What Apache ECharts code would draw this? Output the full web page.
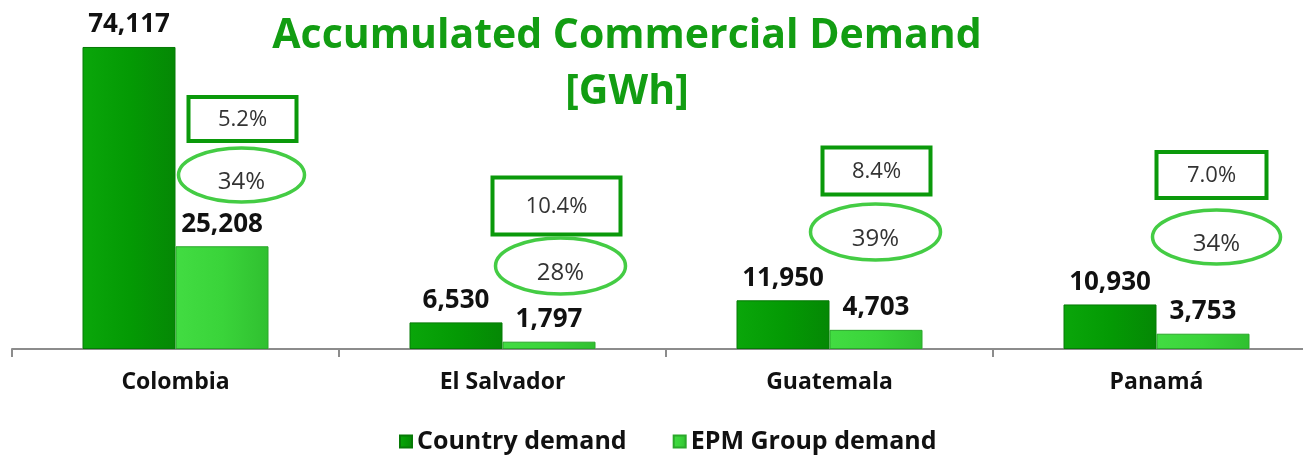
<!DOCTYPE html>
<html>
<head>
<meta charset="utf-8">
<script src="https://cdn.jsdelivr.net/npm/echarts@6/dist/echarts.min.js"></script>
<style>
  html, body { margin: 0; padding: 0; background: #fff; overflow: hidden; }
  /* the plot runs past the right edge of the picture, as in the original slide */
  #chart { width: 1320px; height: 457px; }
</style>
</head>
<body>
<div id="chart"></div>
<script>
// chart data
const countries = ['Colombia', 'El Salvador', 'Guatemala', 'Panamá'];
const countryDemand = [74117, 6530, 11950, 10930];
const epmDemand = [25208, 1797, 4703, 3753];
const growthLabels = ['5.2%', '10.4%', '8.4%', '7.0%'];
const shareLabels = ['34%', '28%', '39%', '34%'];

// annotation layout (pixel offsets from the category centre)
const boxLayout = [
    { dx: 67, y: 119, w: 108, h: 44 },
    { dx: 54, y: 206, w: 128, h: 57 },
    { dx: 47, y: 171, w: 108, h: 47 },
    { dx: 55, y: 175, w: 110, h: 46 }
];
const ovalLayout = [
    { dx: 66, y: 175, rx: 63, ry: 27 },
    { dx: 58, y: 266, rx: 65, ry: 28 },
    { dx: 46, y: 232, rx: 65, ry: 28 },
    { dx: 60, y: 237, rx: 64, ry: 27 }
];

const FONT = '"Open Sans", Lato, sans-serif';
const DARK = '#049a04';
const LIGHT = '#3ad43a';

const chart = echarts.init(document.getElementById('chart'));

const valueLabel = {
    show: true,
    position: 'top',
    distance: 9,
    color: '#111',
    fontFamily: FONT,
    fontWeight: 'bold',
    fontSize: 26,
    formatter: p => p.value.toLocaleString('en-US')
};

chart.setOption({
    animation: false,
    title: {
        text: 'Accumulated Commercial Demand\n[GWh]',
        left: 622,
        top: 3,
        textAlign: 'center',
        textStyle: {
            color: '#129d12',
            fontFamily: FONT,
            fontWeight: 'bold',
            fontSize: 41,
            lineHeight: 56
        }
    },
    legend: {
        bottom: -2,
        left: 394,
        itemWidth: 12,
        itemHeight: 12,
        itemGap: 46,
        icon: 'rect',
        textStyle: {
            color: '#111',
            fontFamily: FONT,
            fontWeight: 'bold',
            fontSize: 25
        }
    },
    grid: { left: 12, right: 0, top: 23, bottom: 108 },
    xAxis: {
        type: 'category',
        data: countries,
        axisLine: { lineStyle: { color: '#8c8c8c', width: 2 } },
        axisTick: { show: true, length: 8, lineStyle: { color: '#8c8c8c', width: 2 } },
        axisLabel: {
            color: '#111',
            fontFamily: FONT,
            fontWeight: 'bold',
            fontSize: 23,
            margin: 22
        }
    },
    yAxis: {
        type: 'value',
        min: 0,
        max: 80000,
        show: false,
        splitLine: { show: false }
    },
    series: [
        {
            name: 'Country demand',
            type: 'bar',
            data: countryDemand,
            barWidth: 93,
            barGap: '0%',
            itemStyle: {
                color: new echarts.graphic.LinearGradient(0, 0, 1, 0, [
                    { offset: 0, color: '#0aa60a' },
                    { offset: 0.5, color: DARK },
                    { offset: 1, color: '#058805' }
                ]),
                borderColor: '#067a06',
                borderWidth: 1
            },
            label: valueLabel
        },
        {
            name: 'EPM Group demand',
            type: 'bar',
            data: epmDemand,
            barWidth: 93,
            itemStyle: {
                color: new echarts.graphic.LinearGradient(0, 0, 1, 0, [
                    { offset: 0, color: '#42dc42' },
                    { offset: 0.5, color: LIGHT },
                    { offset: 1, color: '#30c030' }
                ]),
                borderColor: '#2aa82a',
                borderWidth: 1
            },
            label: valueLabel
        }
    ]
});

// percentage annotations (boxes and ovals) placed next to each category
function drawAnnotations() {
    const elements = [];
    countries.forEach((name, i) => {
        const cx = chart.convertToPixel({ xAxisIndex: 0 }, name);
        const b = boxLayout[i];
        const o = ovalLayout[i];
        elements.push({
            type: 'rect',
            shape: { x: cx + b.dx - b.w / 2, y: b.y - b.h / 2, width: b.w, height: b.h },
            style: { fill: '#fff', stroke: '#0b990b', lineWidth: 4 }
        });
        elements.push({
            type: 'text',
            x: cx + b.dx,
            y: b.y + 1,
            style: {
                text: growthLabels[i],
                fill: '#333',
                font: '22px ' + FONT,
                textAlign: 'center',
                textVerticalAlign: 'middle'
            }
        });
        elements.push({
            type: 'ellipse',
            shape: { cx: cx + o.dx, cy: o.y, rx: o.rx, ry: o.ry },
            style: { fill: 'none', stroke: '#44cc44', lineWidth: 3.5 }
        });
        elements.push({
            type: 'text',
            x: cx + o.dx,
            y: o.y + 7,
            style: {
                text: shareLabels[i],
                fill: '#333',
                font: '24px ' + FONT,
                textAlign: 'center',
                textVerticalAlign: 'middle'
            }
        });
    });
    chart.setOption({ graphic: { elements: elements } });
}

drawAnnotations();
</script>
</body>
</html>
